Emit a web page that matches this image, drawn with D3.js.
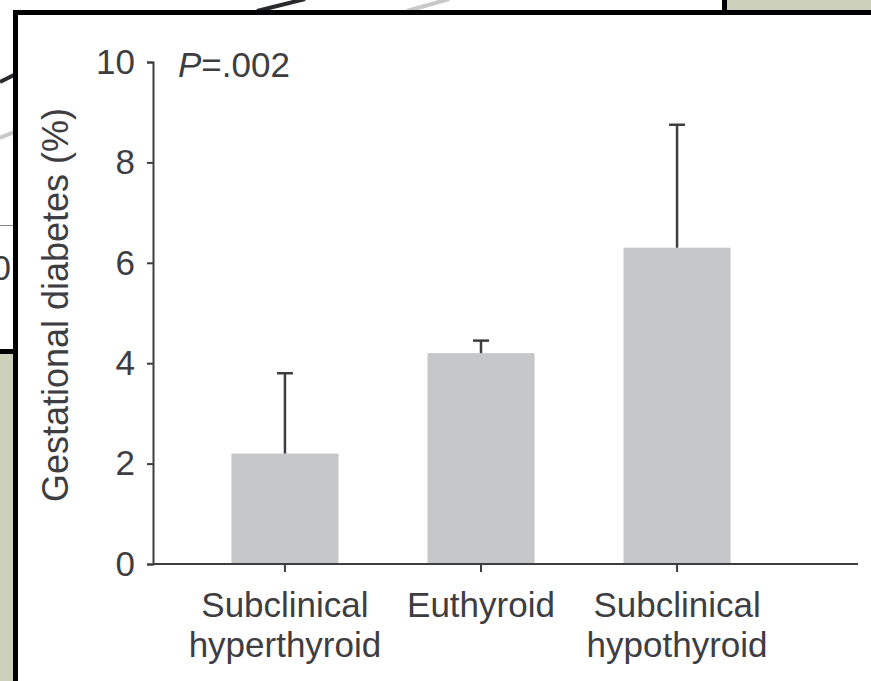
<!DOCTYPE html>
<html lang="en">
<head>
<meta charset="UTF-8">
<title>Gestational diabetes</title>
<script src="https://d3js.org/d3.v7.min.js"></script>
<style>
  body { margin: 0; background: #fff; }
  svg text { font-family: "Liberation Sans", Arial, sans-serif; fill: #3d3d42; }
</style>
</head>
<body>
<script>
// chart values
var groups = ["Subclinical hyperthyroid", "Euthyroid", "Subclinical hypothyroid"];
var groupLines = [["Subclinical", "hyperthyroid"], ["Euthyroid"], ["Subclinical", "hypothyroid"]];
var means = [2.2, 4.2, 6.3];
var upper = [3.8, 4.45, 8.75];
var yTicks = [0, 2, 4, 6, 8, 10];
var yTitle = "Gestational diabetes (%)";
var pValue = "=.002";

var width = 871, height = 681;
var ink = "#3d3d42";

var svg = d3.select("body").append("svg")
    .attr("width", width)
    .attr("height", height);

// --- bits of the surrounding collage ---
var deco = svg.append("g");
deco.append("rect").attr("x", 727).attr("y", 0).attr("width", 144).attr("height", 10).attr("fill", "#cdd1bc");
deco.append("rect").attr("x", 722).attr("y", 0).attr("width", 5).attr("height", 10).attr("fill", "#000");
deco.append("line").attr("x1", 257).attr("y1", 11).attr("x2", 305).attr("y2", -1)
    .attr("stroke", "#2a2a2e").attr("stroke-width", 4);
deco.append("line").attr("x1", 407).attr("y1", 11).attr("x2", 449).attr("y2", -1)
    .attr("stroke", "#c8c8c8").attr("stroke-width", 4);
deco.append("line").attr("x1", 0).attr("y1", 82).attr("x2", 14).attr("y2", 75)
    .attr("stroke", "#2a2a2e").attr("stroke-width", 4);
deco.append("line").attr("x1", 0).attr("y1", 138).attr("x2", 14).attr("y2", 132)
    .attr("stroke", "#c8c8c8").attr("stroke-width", 4);
deco.append("line").attr("x1", 0).attr("y1", 225.5).attr("x2", 13).attr("y2", 225.5)
    .attr("stroke", "#888").attr("stroke-width", 1);
deco.append("text").attr("x", 11).attr("y", 280).attr("text-anchor", "end")
    .style("font-size", "35px").text("0");
deco.append("rect").attr("x", 0).attr("y", 349).attr("width", 13).attr("height", 5).attr("fill", "#000");
deco.append("rect").attr("x", 0).attr("y", 354).attr("width", 13).attr("height", 327).attr("fill", "#cdd1bc");
// black frame
deco.append("rect").attr("x", 13).attr("y", 10).attr("width", 858).attr("height", 5).attr("fill", "#000");
deco.append("rect").attr("x", 13).attr("y", 10).attr("width", 5).attr("height", 671).attr("fill", "#000");

// --- chart ---
var x0 = 153, axisEnd = 858;

var y = d3.scaleLinear()
    .domain([0, 10])
    .range([564, 62]);

var x = d3.scaleBand()
    .domain(groups)
    .range([x0, 809])
    .paddingInner(0.454)
    .paddingOuter(0.4);

var data = groups.map(function (g, i) {
    return { group: g, mean: means[i], upper: upper[i], lines: groupLines[i] };
});

svg.selectAll("rect.bar")
    .data(data)
    .enter()
    .append("rect")
    .attr("class", "bar")
    .attr("x", function (d) { return x(d.group); })
    .attr("y", function (d) { return y(d.mean); })
    .attr("width", x.bandwidth())
    .attr("height", function (d) { return y(0) - y(d.mean); })
    .attr("fill", "#c6c7c9");

// error bars (upper only)
var err = svg.selectAll("g.err")
    .data(data)
    .enter()
    .append("g")
    .attr("class", "err")
    .attr("stroke", ink)
    .attr("stroke-width", 2.5);
err.append("line")
    .attr("x1", function (d) { return x(d.group) + x.bandwidth() / 2; })
    .attr("x2", function (d) { return x(d.group) + x.bandwidth() / 2; })
    .attr("y1", function (d) { return y(d.mean); })
    .attr("y2", function (d) { return y(d.upper); });
err.append("line")
    .attr("x1", function (d) { return x(d.group) + x.bandwidth() / 2 - 8; })
    .attr("x2", function (d) { return x(d.group) + x.bandwidth() / 2 + 8; })
    .attr("y1", function (d) { return y(d.upper); })
    .attr("y2", function (d) { return y(d.upper); });

// y axis
var yAxis = svg.append("g")
    .attr("transform", "translate(" + x0 + ",0)")
    .call(d3.axisLeft(y).tickValues(yTicks).tickSize(6).tickPadding(12));
yAxis.selectAll("text").style("font-size", "35px").attr("fill", ink);
yAxis.selectAll("line, path").attr("stroke", ink).attr("stroke-width", 2);

// x axis
var xAxis = svg.append("g")
    .attr("transform", "translate(0," + y(0) + ")")
    .call(d3.axisBottom(x).tickSize(8).tickSizeOuter(0));
xAxis.select(".domain").remove();
xAxis.selectAll("line").attr("stroke", ink).attr("stroke-width", 2);
xAxis.selectAll("text").remove();
xAxis.append("line")
    .attr("x1", x0).attr("x2", axisEnd)
    .attr("y1", 0).attr("y2", 0)
    .attr("stroke", ink).attr("stroke-width", 2);

svg.selectAll("text.cat")
    .data(data)
    .enter()
    .append("text")
    .attr("class", "cat")
    .attr("text-anchor", "middle")
    .style("font-size", "35px")
    .each(function (d) {
        var t = d3.select(this);
        d.lines.forEach(function (s, k) {
            t.append("tspan")
                .attr("x", x(d.group) + x.bandwidth() / 2)
                .attr("y", 617 + k * 40)
                .text(s);
        });
    });

// y title
svg.append("text")
    .attr("transform", "translate(68," + 305 + ") rotate(-90)")
    .attr("text-anchor", "middle")
    .style("font-size", "36px")
    .text(yTitle);

// P value
var p = svg.append("text")
    .attr("x", 178)
    .attr("y", 77)
    .style("font-size", "35px");
p.append("tspan").style("font-style", "italic").text("P");
p.append("tspan").text(pValue);
</script>
</body>
</html>
